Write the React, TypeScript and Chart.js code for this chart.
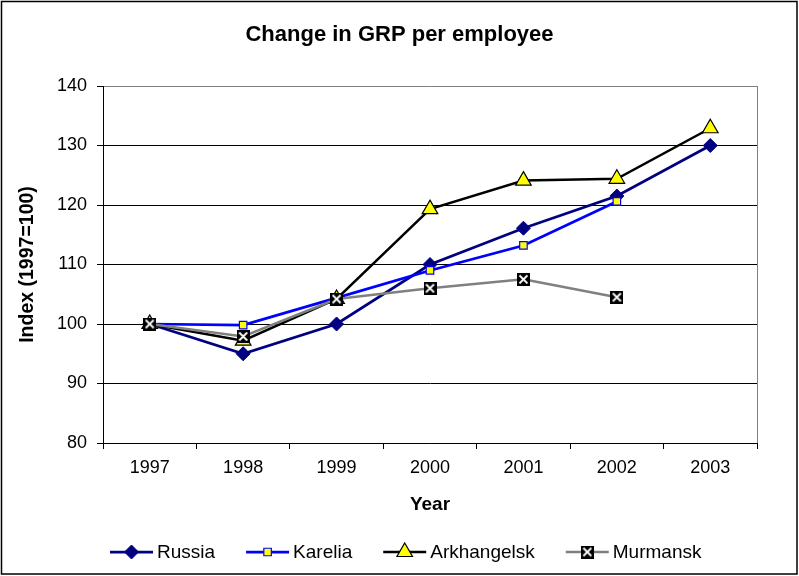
import React, { useEffect, useRef } from "react";
import { Chart, registerables } from "chart.js";
import { drawPoint } from "chart.js/helpers";

Chart.register(...registerables);

const years = ["1997", "1998", "1999", "2000", "2001", "2002", "2003"];
const russia = [100, 95, 100, 110, 116.1, 121.5, 130];
const karelia = [100, 99.8, 104.4, 109, 113.2, 120.6, null];
const arkhangelsk = [100, 97.2, 104.2, 119.3, 124.1, 124.4, 132.9];
const murmansk = [100, 97.9, 104.2, 106, 107.5, 104.5, null];
const yTicks = { min: 80, max: 140, step: 10 };

const FONT = "Arial, 'Liberation Sans', sans-serif";

function makeCrossMarker(): HTMLCanvasElement {
  const c = document.createElement("canvas");
  c.width = 13;
  c.height = 13;
  const g = c.getContext("2d")!;
  g.fillStyle = "#000";
  g.fillRect(0, 0, 13, 13);
  g.strokeStyle = "#fff";
  g.lineWidth = 1.8;
  g.beginPath();
  g.moveTo(2.5, 2.5);
  g.lineTo(10.5, 10.5);
  g.moveTo(10.5, 2.5);
  g.lineTo(2.5, 10.5);
  g.stroke();
  return c;
}

const framePlugin = {
  id: "frame",
  beforeDatasetsDraw(chart: any) {
    const { ctx, chartArea } = chart;
    ctx.save();
    ctx.strokeStyle = "#808080";
    ctx.lineWidth = 1;
    ctx.beginPath();
    const x = Math.round(chartArea.right) + 0.5;
    ctx.moveTo(x, chartArea.top);
    ctx.lineTo(x, chartArea.bottom);
    ctx.stroke();
    ctx.restore();
  },
  afterDraw(chart: any) {
    const { ctx } = chart;
    ctx.save();
    ctx.strokeStyle = "#000";
    ctx.lineWidth = 1.5;
    ctx.strokeRect(1.5, 1.5, chart.width - 3.5, chart.height - 3.5);
    ctx.restore();
  },
};

const legendPlugin = {
  id: "customLegend",
  afterDraw(chart: any) {
    const { ctx, chartArea } = chart;
    const symW = 43;
    const gap = 4;
    const itemGap = 31;
    let x = chartArea.left + 7;
    const y = chart.height - 24;
    ctx.save();
    ctx.font = `19px ${FONT}`;
    ctx.textBaseline = "middle";
    ctx.textAlign = "left";
    chart.data.datasets.forEach((ds: any) => {
      ctx.strokeStyle = ds.borderColor;
      ctx.lineWidth = ds.borderWidth;
      ctx.beginPath();
      ctx.moveTo(x, y);
      ctx.lineTo(x + symW, y);
      ctx.stroke();
      ctx.fillStyle = ds.pointBackgroundColor;
      ctx.strokeStyle = ds.pointBorderColor;
      ctx.lineWidth = ds.pointBorderWidth;
      drawPoint(ctx, { pointStyle: ds.pointStyle, radius: ds.pointRadius, rotation: 0, borderWidth: ds.pointBorderWidth }, x + symW / 2, y);
      ctx.fillStyle = "#000";
      ctx.fillText(ds.label, x + symW + gap, y + 1);
      x += symW + gap + ctx.measureText(ds.label).width + itemGap;
    });
    ctx.restore();
  },
};

export default function App() {
  const ref = useRef<HTMLCanvasElement>(null);
  useEffect(() => {
    if (!ref.current) return;
    Chart.defaults.font.family = FONT;
    Chart.defaults.color = "#000";
    const cross = makeCrossMarker();
    const chart = new Chart(ref.current, {
      type: "line",
      data: {
        labels: years,
        datasets: [
          {
            label: "Russia",
            data: russia,
            borderColor: "#000080",
            borderWidth: 2.75,
            pointStyle: "rectRot",
            pointRadius: 7,
            pointBackgroundColor: "#000080",
            pointBorderColor: "#000080",
            pointBorderWidth: 1,
            order: 3,
          },
          {
            label: "Karelia",
            data: karelia,
            borderColor: "#0000FF",
            borderWidth: 2.75,
            pointStyle: "rect",
            pointRadius: 5.3,
            pointBackgroundColor: "#FFFF00",
            pointBorderColor: "#0000FF",
            pointBorderWidth: 1.2,
            order: 2,
          },
          {
            label: "Arkhangelsk",
            data: arkhangelsk,
            borderColor: "#000000",
            borderWidth: 2.5,
            pointStyle: "triangle",
            pointRadius: 9,
            pointBackgroundColor: "#FFFF00",
            pointBorderColor: "#000000",
            pointBorderWidth: 1.2,
            order: 1,
          },
          {
            label: "Murmansk",
            data: murmansk,
            borderColor: "#808080",
            borderWidth: 2.5,
            pointStyle: cross as any,
            pointRadius: 6.5,
            pointBackgroundColor: "#000",
            pointBorderColor: "#000",
            pointBorderWidth: 1,
            order: 0,
          },
        ] as any,
      },
      options: {
        animation: false,
        responsive: false,
        layout: { padding: { left: 0, right: 0, top: 0, bottom: 45 } },
        elements: { line: { tension: 0 } },
        plugins: {
          legend: { display: false },
          tooltip: { enabled: false },
          title: {
            display: true,
            text: "Change in GRP per employee",
            color: "#000",
            font: { size: 22, weight: "bold", family: FONT },
            padding: { top: 22, bottom: 37.6 },
          },
        },
        scales: {
          x: {
            type: "category",
            offset: true,
            grid: { offset: true, drawOnChartArea: false, drawTicks: true, tickLength: 6, color: "#000" },
            border: { color: "#000", width: 1 },
            ticks: { font: { size: 18, family: FONT }, color: "#000", padding: 8, maxRotation: 0, autoSkip: false },
            title: {
              display: true,
              text: "Year",
              color: "#000",
              font: { size: 19, weight: "bold", family: FONT },
              padding: { top: 0, bottom: 15 },
            },
            afterFit: (s: any) => {
              s.height = 88;
            },
          },
          y: {
            min: yTicks.min,
            max: yTicks.max,
            ticks: { stepSize: yTicks.step, font: { size: 18, family: FONT }, color: "#000", padding: 10 },
            grid: {
              color: (c: any) => (c.tick && c.tick.value === yTicks.max ? "#808080" : "#000"),
              tickColor: "#000",
              tickLength: 6,
              lineWidth: 1,
            },
            border: { color: "#000", width: 1 },
            title: {
              display: true,
              text: "Index (1997=100)",
              color: "#000",
              font: { size: 19.5, weight: "bold", family: FONT },
              padding: { top: 16, bottom: 0 },
            },
            afterFit: (s: any) => {
              s.width = 103;
            },
          },
          yRight: {
            position: "right",
            min: yTicks.min,
            max: yTicks.max,
            ticks: { display: false },
            grid: { display: false, drawTicks: false },
            border: { display: false },
            afterFit: (s: any) => {
              s.width = 42;
            },
          },
        },
      } as any,
      plugins: [framePlugin, legendPlugin],
    });
    return () => chart.destroy();
  }, []);
  return (
    <div style={{ position: "absolute", left: 0, top: 0, width: 799, height: 576, background: "#fff" }}>
      <canvas ref={ref} width={799} height={576} style={{ display: "block" }} />
    </div>
  );
}
